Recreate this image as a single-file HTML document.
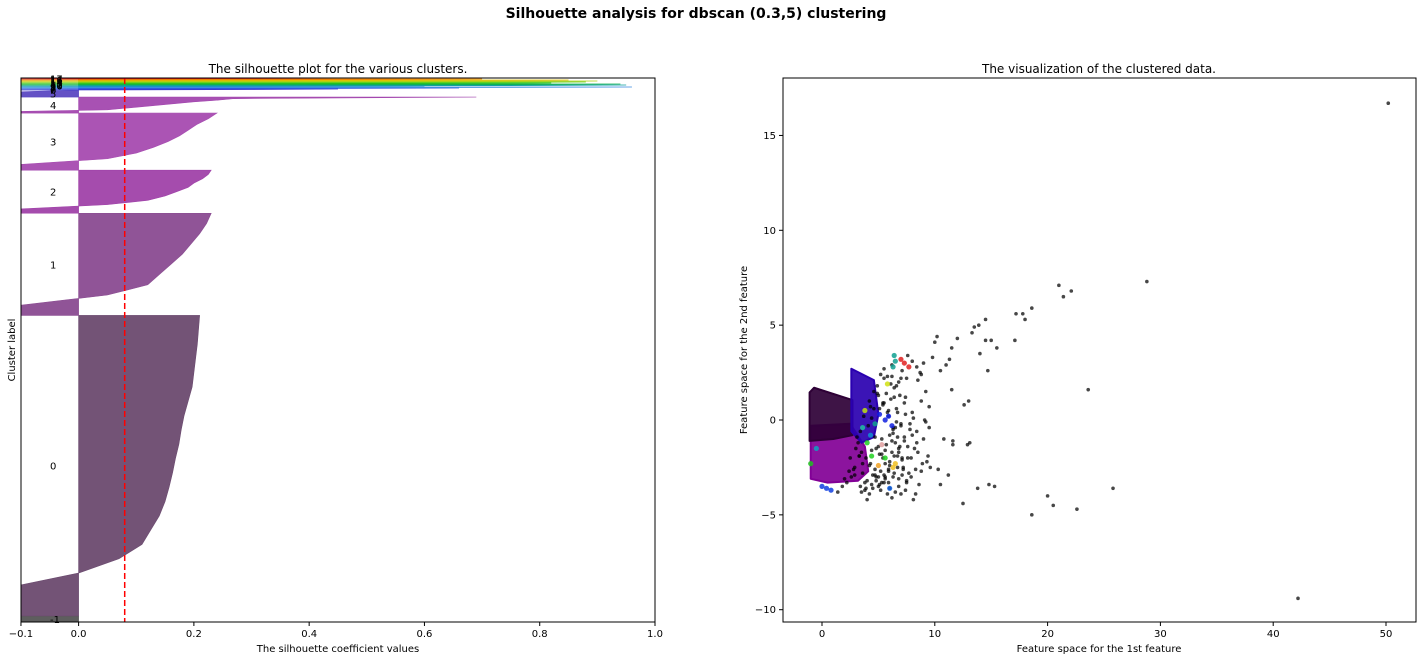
<!DOCTYPE html>
<html><head><meta charset="utf-8">
<style>
body{margin:0;background:#fff;}
svg{display:block;font-family:"DejaVu Sans","Liberation Sans",sans-serif;}
</style></head>
<body>
<svg id="fig" width="1423" height="660" viewBox="0 0 1423 660">
<text x="696" y="18" text-anchor="middle" font-size="14" font-weight="bold">Silhouette analysis for dbscan (0.3,5) clustering</text>
<text x="338" y="73" text-anchor="middle" font-size="12">The silhouette plot for the various clusters.</text>
<text x="1099" y="73" text-anchor="middle" font-size="12">The visualization of the clustered data.</text>
<defs>
<clipPath id="cl"><rect x="21" y="78" width="634" height="544"/></clipPath>
<clipPath id="cr"><rect x="783" y="78" width="633" height="544"/></clipPath>
</defs>
<g id="left" clip-path="url(#cl)"></g>
<g id="leftLabels"></g>
<line x1="124.7" y1="78" x2="124.7" y2="622" stroke="#ff0000" stroke-width="1.5" stroke-dasharray="6,3"/>
<rect x="21" y="78" width="634" height="544" fill="none" stroke="#000" stroke-width="1"/>
<g id="leftTicks" font-size="10"></g>
<text x="338" y="652" text-anchor="middle" font-size="10">The silhouette coefficient values</text>
<text x="15" y="350" text-anchor="middle" font-size="10" transform="rotate(-90 15 350)">Cluster label</text>

<g id="right" clip-path="url(#cr)"></g>
<rect x="783" y="78" width="633" height="544" fill="none" stroke="#000" stroke-width="1"/>
<g id="rightTicks" font-size="10"></g>
<text x="1099" y="652" text-anchor="middle" font-size="10">Feature space for the 1st feature</text>
<text x="747" y="350" text-anchor="middle" font-size="10" transform="rotate(-90 747 350)">Feature space for the 2nd feature</text>
</svg>
<script>
// ---- silhouette data ----
const clusterLabels = ["-1","0","1","2","3","4","5","6","7","8","9","10","11","12","13","14","15","16","17"];
const clusterSizes = [60,3000,1020,430,570,160,70,10,10,10,10,10,10,10,10,10,10,10,10];
const clusterColors = ["#555555","#6b4a6f","#8a4b91","#a042a9","#a64bb0","#a348af","#5b48c2","#3a3ad0","#2a50e0","#3a8ae0","#1890d0","#10a0a0","#10b050","#20c020","#60d020","#b0d010","#e0c000","#f08000","#e02020"];
const profiles = [
 [-0.1,-0.1,-0.1,-0.1],
 [-0.2,-0.15,-0.12,0.0,0.07,0.11,0.125,0.14,0.15,0.157,0.163,0.168,0.174,0.178,0.183,0.19,0.197,0.2,0.203,0.206,0.208,0.21],
 [-0.1,-0.1,0.05,0.12,0.14,0.16,0.18,0.195,0.21,0.222,0.23],
 [-0.1,-0.1,0.05,0.12,0.15,0.17,0.19,0.2,0.215,0.225,0.23],
 [-0.1,-0.1,0.05,0.1,0.13,0.155,0.175,0.19,0.205,0.225,0.24],
 [-0.1,-0.1,0.05,0.08,0.11,0.14,0.17,0.2,0.24,0.27,0.69],
 [-0.1,-0.1,-0.1,-0.1,0.0],
 [-0.1,0.3,0.45],[-0.1,0.4,0.66],[-0.1,0.6,0.96],[-0.1,0.3,0.6],[-0.1,0.8,0.95],
 [-0.1,0.8,0.94],[-0.1,0.6,0.82],[-0.1,0.7,0.88],[-0.1,0.75,0.9],[-0.1,0.6,0.85],[-0.1,0.5,0.7],[-0.1,0.3,0.5]
];
const xTickVals = [-0.1,0.0,0.2,0.4,0.6,0.8,1.0];
const xTickText = ["\u22120.1","0.0","0.2","0.4","0.6","0.8","1.0"];

// ---- scatter data ----
const blobNames = ["purple","dark","violet"];
const blobColors = ["#820096","#2e0036","#2a00b0"];
const blobPolys = [
 [[-1.0,-0.3],[2.5,-0.2],[3.8,-1.4],[4.1,-2.7],[3.2,-3.2],[0.5,-3.3],[-1.0,-3.1]],
 [[-1.1,1.45],[-0.7,1.7],[2.7,1.05],[2.7,-0.8],[1.0,-1.0],[-1.1,-1.1]],
 [[2.6,2.7],[4.6,2.1],[5.0,0.3],[4.6,-0.9],[3.5,-1.2],[2.6,-0.6]]
];
const smallX = [6.3,6.5,6.4,7.3,7.7,7.0,5.8,5.1,5.6,6.2,5.9,6.5,6.3,5.6,5.0,4.4,4.0,3.6,4.3,5.3,6.0,0.0,0.4,0.8,-0.5,-1.0,4.7,3.8];
const smallY = [2.8,3.1,3.4,3.0,2.8,3.2,1.9,0.3,0.0,-0.3,0.2,-2.3,-2.5,-2.0,-2.4,-1.9,-1.2,-0.4,-0.8,-1.3,-3.6,-3.5,-3.6,-3.7,-1.5,-2.3,-0.2,0.5];
const smallC = ["#10a090","#10a090","#10a090","#e02020","#e02020","#e02020","#d0e010","#1020e0","#1020e0","#1020e0","#1020e0","#f0c020","#f0c020","#20d020","#f0a020","#20d020","#20d020","#20c0a0","#1090d0","#e0a0a0","#1060e0","#1040e0","#1040e0","#1040e0","#10a0c0","#20c020","#10a090","#c0e010"];
const noiseX = [50.2,42.2,28.8,25.8,23.6,22.6,22.1,21.0,21.4,20.5,20.0,18.6,18.6,17.8,18.0,17.2,17.1,15.5,15.0,15.3,14.8,14.5,14.5,14.7,14.0,13.9,13.8,13.5,13.3,13.0,12.5,12.6,12.0,11.5,11.3,11.5,11.0,10.5,10.2,10.0,9.8,10.5,11.2,10.3,9.6,11.6,11.6,10.8,8.3,8.1,7.5,12.9,13.1,
 9.0,8.7,8.5,9.2,8.8,9.5,8.0,7.8,8.4,9.0,8.2,7.6,7.2,7.9,8.6,9.3,7.4,7.0,6.8,6.5,6.2,6.0,5.8,5.5,5.2,5.0,4.8,4.5,4.2,4.0,3.8,3.5,
 7.1,7.5,6.8,6.4,6.9,7.3,6.6,6.1,5.7,5.4,5.9,6.3,6.7,7.0,7.4,7.8,8.1,8.5,8.9,9.4,
 5.3,5.6,6.0,6.4,6.8,7.2,7.6,8.0,8.4,8.8,9.2,5.1,5.5,5.9,6.3,6.7,7.1,7.5,7.9,8.3,
 4.6,4.9,5.2,5.5,5.8,6.1,6.4,6.7,7.0,7.3,4.4,4.7,5.0,5.3,5.6,5.9,6.2,6.5,6.8,7.1,
 3.9,4.2,4.5,4.8,5.1,5.4,5.7,6.0,6.3,6.6,3.6,4.0,4.4,4.8,5.2,5.6,6.0,6.4,3.4,3.8,
 7.6,8.0,8.4,8.8,9.1,9.5,7.3,7.7,6.9,6.2,5.5,4.9,4.3,3.7,3.3,2.9,2.6,2.2,1.8,1.4,
 3.0,3.3,3.6,2.8,3.1,3.4,2.5,2.9,3.2,3.5,2.0,2.4,4.1,4.4,4.7,5.0,5.3,5.6,5.9,6.2,
 6.5,6.8,7.1,4.2,4.6,5.0,5.4,5.8,6.2,6.6,7.0,7.4,3.9,4.3,4.7,5.1,5.5,5.9,6.3,6.7];
const noiseY = [16.7,-9.4,7.3,-3.6,1.6,-4.7,6.8,7.1,6.5,-4.5,-4.0,-5.0,5.9,5.6,5.3,5.6,4.2,3.8,4.2,-3.5,-3.4,5.3,4.2,2.6,3.5,5.0,-3.6,4.9,4.6,1.0,-4.4,0.8,4.3,3.8,3.2,1.6,2.9,2.6,4.4,4.1,3.3,-3.4,-2.9,-2.6,-2.5,-1.3,-1.1,-1.0,-3.9,-4.2,-3.3,-1.3,-1.2,
 3.0,2.5,2.1,1.5,1.0,0.7,0.4,-0.2,-0.6,-1.0,-1.5,-2.0,-2.6,-3.0,-3.4,-2.2,-3.7,-3.9,-3.5,-3.8,-4.1,-3.6,-3.9,-3.3,-3.7,-3.5,-3.2,-3.6,-3.9,-4.2,-3.3,-3.8,
 2.6,2.2,2.0,1.7,1.3,0.9,0.6,1.1,1.4,0.8,0.2,-0.4,-0.9,-0.3,0.3,-0.5,0.1,-1.7,-2.3,-1.9,
 -1.0,-1.6,-2.2,-2.8,-3.1,-2.5,-1.4,-0.8,-1.2,-2.7,-0.1,0.6,0.9,0.5,-0.7,-1.9,-2.9,-3.2,-2.0,-2.6,
 1.5,1.8,2.4,2.7,2.3,1.9,1.2,0.4,-0.2,-1.1,-1.6,-2.6,-3.0,-3.3,-3.0,-2.7,-1.7,-1.2,-1.5,-2.0,
 -2.0,-2.4,-2.9,-1.5,-1.8,-2.0,-1.3,-0.8,-0.5,-0.1,-2.8,-3.2,-3.4,-3.0,-2.7,-3.1,-2.4,-1.9,-3.5,-3.7,
 3.4,3.1,2.8,2.4,0.0,-0.4,-0.9,-2.8,-1.4,2.9,2.2,1.4,0.7,0.2,-1.9,-2.5,-3.0,-3.3,-3.5,-3.8,
 -1.5,-1.9,-2.3,-2.6,-0.9,-0.6,-2.0,-2.9,-1.2,-1.7,-3.1,-2.7,-0.3,0.1,-0.9,-1.4,-1.8,-2.3,-2.6,-1.1,
 -0.4,-1.7,-2.1,1.0,0.6,1.3,0.9,0.4,2.3,1.8,2.2,1.2,-3.6,-2.3,-2.9,-3.4,-2.9,-3.3,-3.0,-2.5];
const xTicksR = [0,10,20,30,40,50];
const yTicksR = [-10,-5,0,5,10,15];

const NS = "http://www.w3.org/2000/svg";
function mk(tag, attrs, parent){const e=document.createElementNS(NS,tag);for(const k in attrs)e.setAttribute(k,attrs[k]);parent.appendChild(e);return e;}

// left scales
const xL = v => 78.6 + v*576.4;
const totalN = clusterSizes.reduce((a,b)=>a+b,0);
const yL = n => 622 - n*(544/totalN);

const left = document.getElementById('left');
const lbl = document.getElementById('leftLabels');
let yLower = 0;
clusterSizes.forEach((sz,i)=>{
  const prof = profiles[i];
  const m = prof.length;
  let d = `M${xL(0)},${yL(yLower)}`;
  prof.forEach((v,j)=>{ d += ` L${xL(v)},${yL(yLower + sz*j/(m-1))}`; });
  d += ` L${xL(0)},${yL(yLower+sz)} Z`;
  const p = mk('path',{d:d,fill:clusterColors[i],'fill-opacity':0.95,stroke:clusterColors[i],'stroke-width':i>=7?0.8:0.6},left);
  
  
  const ty = yL(yLower + sz/2) + 4;
  const t = mk('text',{x:50,y:Math.max(ty,79),'font-size':10},lbl);
  t.textContent = clusterLabels[i];
  
  
  yLower += sz;
});
const lt = document.getElementById('leftTicks');
xTickVals.forEach((v,i)=>{
  const l = mk('line',{x1:xL(v),x2:xL(v),y1:622,y2:626,stroke:'#000'},lt);
  
  
  const t = mk('text',{x:xL(v),y:637,'text-anchor':'middle'},lt);
  t.textContent = xTickText[i];
  
  
});

// right scales
const xR = v => 822 + v*11.28;
const yR = v => 420 - v*18.97;
const right = document.getElementById('right');
blobPolys.forEach((poly,i)=>{
  const pg = mk('polygon',{points:poly.map(p=>xR(p[0])+','+yR(p[1])).join(' '),fill:blobColors[i],'fill-opacity':0.92,stroke:blobColors[i],'stroke-width':2,'stroke-linejoin':'round'},right);
  
  
});
noiseX.forEach((x,i)=>{
  const c = mk('circle',{cx:xR(x),cy:yR(noiseY[i]),r:1.8,fill:'#000','fill-opacity':0.72},right);
  
  
});
smallX.forEach((x,i)=>{
  const c = mk('circle',{cx:xR(x),cy:yR(smallY[i]),r:2.6,fill:smallC[i],'fill-opacity':0.85},right);
  
  
});
const rt = document.getElementById('rightTicks');
xTicksR.forEach(v=>{
  const l = mk('line',{x1:xR(v),x2:xR(v),y1:622,y2:626,stroke:'#000'},rt);
  
  
  const t = mk('text',{x:xR(v),y:637,'text-anchor':'middle'},rt);
  t.textContent = String(v);
  
  
});
yTicksR.forEach(v=>{
  const l = mk('line',{x1:779,x2:783,y1:yR(v),y2:yR(v),stroke:'#000'},rt);
  
  
  const t = mk('text',{x:776,y:yR(v)+3.5,'text-anchor':'end'},rt);
  t.textContent = v<0 ? '\u2212'+Math.abs(v) : String(v);
  
  
});
</script>
</body></html>
